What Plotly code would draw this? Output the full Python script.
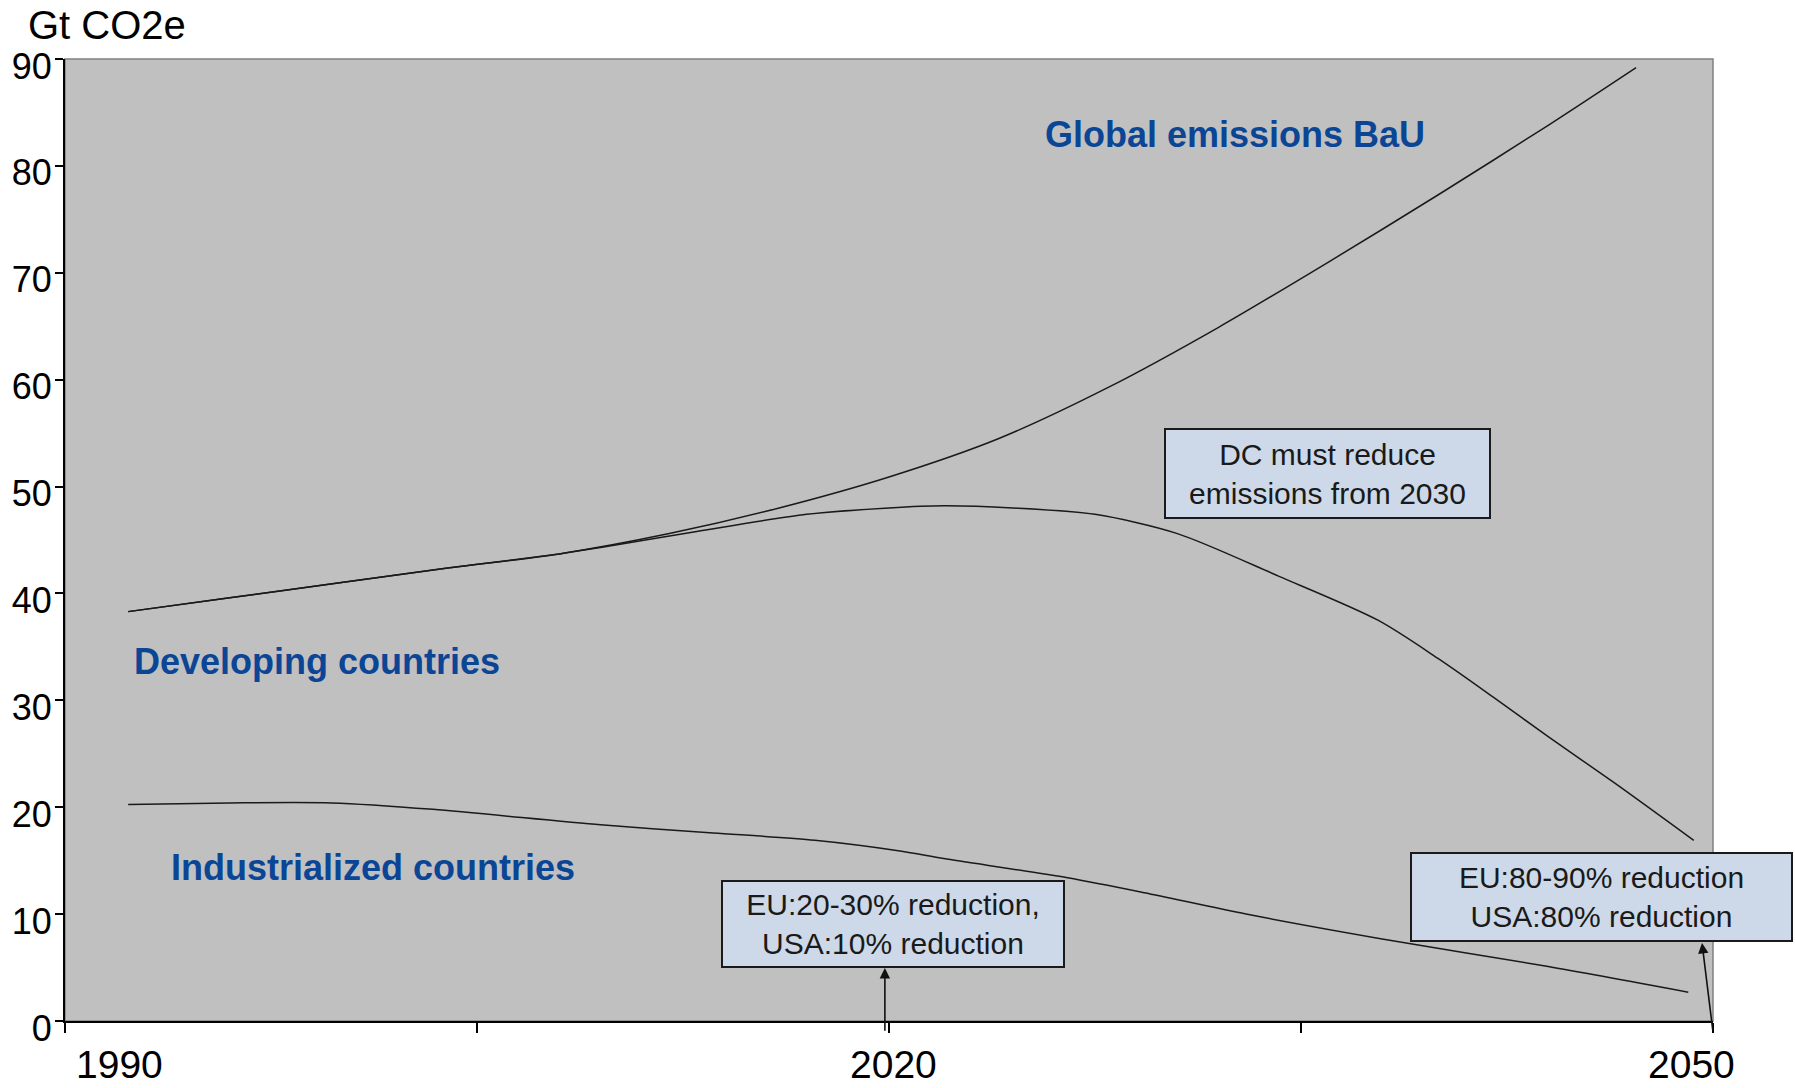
import plotly.graph_objects as go

# ---------------- data ----------------
global_years = [1992.3, 1996, 2000, 2004, 2008, 2012, 2016, 2020, 2024, 2028, 2032, 2036, 2040, 2044, 2047.2]
global_bau = [38.3, 39.6, 41.0, 42.4, 43.7, 45.6, 48.0, 50.9, 54.5, 59.3, 64.9, 71.0, 77.3, 83.8, 89.2]

dc_years = [1992.3, 1996, 2000, 2004, 2008, 2009.5, 2013, 2017, 2020, 2022, 2024.5, 2027.5, 2030.5,
            2034.2, 2037.8, 2040, 2042, 2044, 2046.4, 2049.3]
developing = [38.3, 39.6, 41.0, 42.4, 43.7, 44.3, 45.8, 47.4, 48.0, 48.2, 48.0, 47.4, 45.6,
              41.6, 37.5, 33.9, 30.3, 26.6, 22.3, 16.9]

ic_years = [1992.3, 1996, 1999.7, 2003.4, 2009.5, 2013.6, 2017.3, 2020.4, 2022, 2026.5, 2029.3,
            2033, 2037.9, 2044, 2049.1]
industrialized = [20.25, 20.4, 20.4, 19.8, 18.35, 17.6, 16.9, 15.9, 15.2, 13.4, 12.0,
                  10.0, 7.7, 5.1, 2.7]

y_ticks = [0, 10, 20, 30, 40, 50, 60, 70, 80, 90]
x_ticks = [1990, 2005, 2020, 2035, 2050]
x_labels = {1990: "1990", 2020: "2020", 2050: "2050"}

FONT = "Liberation Sans, Arial, sans-serif"
BLUE = "#0b4596"
LINE = "#1a1a1a"

fig = go.Figure()
for xs, ys in [(global_years, global_bau), (dc_years, developing), (ic_years, industrialized)]:
    fig.add_trace(go.Scatter(x=xs, y=ys, mode="lines",
                             line=dict(color=LINE, width=1.5, shape="spline", smoothing=0.8),
                             showlegend=False, hoverinfo="skip"))

fig.update_layout(
    width=1795, height=1088, autosize=False,
    margin=dict(l=65, r=82, t=59, b=67, autoexpand=False),
    paper_bgcolor="white", plot_bgcolor="#c0c0c0",
    font=dict(family=FONT, color="black"),
    showlegend=False,
)
fig.update_xaxes(range=[1990, 2050], tickvals=x_ticks, showticklabels=False, automargin=False,
                 showgrid=False, zeroline=False, showline=True, linecolor="black", linewidth=2,
                 ticks="outside", ticklen=10, tickwidth=1.5, tickcolor="black")
fig.update_yaxes(range=[0, 90], tickvals=y_ticks, showgrid=False, zeroline=False, automargin=False,
                 showline=True, linecolor="black", linewidth=2,
                 ticks="outside", ticklen=8, tickwidth=1.5, tickcolor="black",
                 tickfont=dict(size=36, family=FONT, color="black"),
                 ticklabelshift=7, ticklabelstandoff=-4)

# top/right frame
fig.add_shape(type="rect", xref="paper", yref="paper", x0=0, y0=0, x1=1, y1=1,
              line=dict(color="#808080", width=1.5), layer="below")

# x tick labels (offset like the original)
label_pos = {1990: 1992.0, 2020: 2020.15, 2050: 2049.2}
for yr, txt in x_labels.items():
    fig.add_annotation(x=label_pos[yr], y=0, xref="x", yref="paper", yshift=-43, text=txt,
                       showarrow=False, font=dict(size=39, family=FONT, color="black"),
                       xanchor="center", yanchor="middle")

# axis unit
fig.add_annotation(x=0, y=1, xref="paper", yref="paper", text="Gt CO2e", showarrow=False,
                   xanchor="left", yanchor="middle", xshift=-39, yshift=34,
                   font=dict(size=40, family=FONT, color="black"))

# series labels
fig.add_annotation(x=2032.6, y=82.9, xref="x", yref="y", text="<b>Global emissions BaU</b>",
                   showarrow=False, xanchor="center", yanchor="middle",
                   font=dict(size=36, family=FONT, color=BLUE))
fig.add_annotation(x=1992.44, y=33.6, xref="x", yref="y", text="<b>Developing countries</b>",
                   showarrow=False, xanchor="left", yanchor="middle",
                   font=dict(size=36, family=FONT, color=BLUE))
fig.add_annotation(x=1993.79, y=14.4, xref="x", yref="y", text="<b>Industrialized countries</b>",
                   showarrow=False, xanchor="left", yanchor="middle",
                   font=dict(size=36, family=FONT, color=BLUE))

BOX_BG = "#cdd9e8"
BOX_FONT = dict(size=30, family=FONT, color="#1a1a1a")
boxes = [
    (2035.96, 51.2, 323, 87, "DC must reduce<br>emissions from 2030"),
    (2020.14, 9.07, 340, 84, "EU:20-30% reduction,<br>USA:10% reduction"),
    (2045.93, 11.6, 379, 86, "EU:80-90% reduction<br>USA:80% reduction"),
]
for bx, by, w, h, txt in boxes:
    fig.add_annotation(x=bx, y=by, xref="x", yref="y", text=txt, showarrow=False,
                       xanchor="center", yanchor="middle", width=w, height=h,
                       bgcolor=BOX_BG, bordercolor="#1a1a1a", borderwidth=2, borderpad=0,
                       font=BOX_FONT, align="center")

# arrows (tail below axis, head at box bottom)
arrows = [((2019.85, 4.96), (2019.85, -1.05)), ((2049.6, 7.3), (2050.0, -1.05))]
for (hx, hy), (tx, ty) in arrows:
    fig.add_annotation(x=hx, y=hy, ax=tx, ay=ty, xref="x", yref="y", axref="x", ayref="y",
                       text="", showarrow=True, arrowhead=2, arrowsize=1.3, arrowwidth=1.6,
                       arrowcolor="#111111")

fig.write_html("out.html")
